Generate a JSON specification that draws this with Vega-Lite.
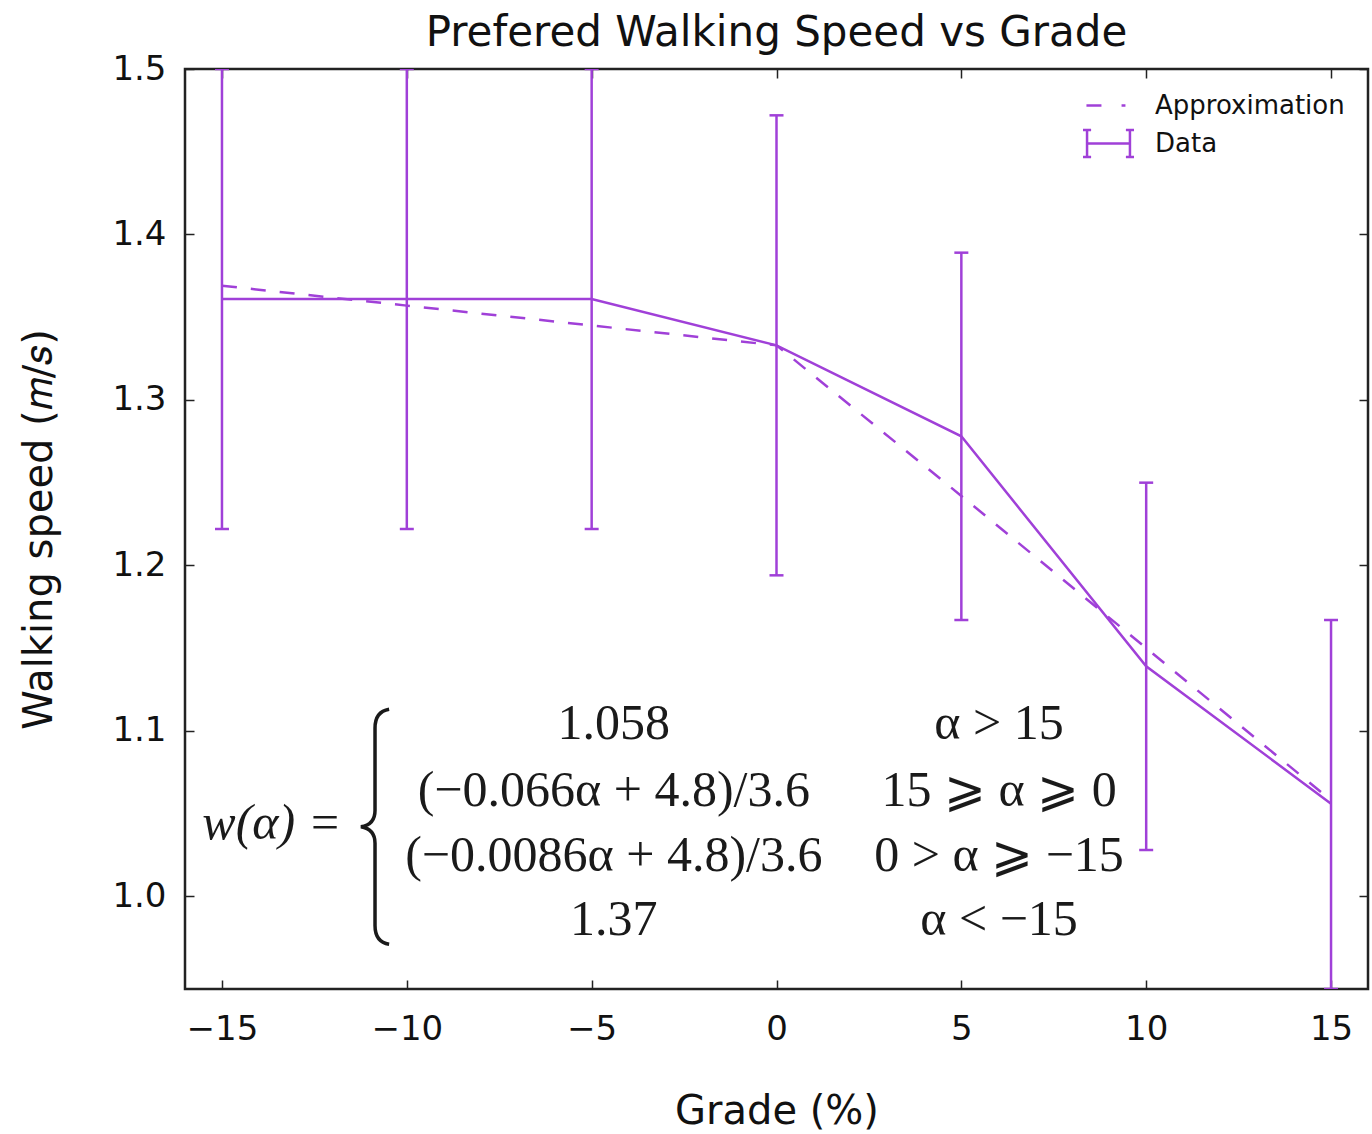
{
  "$schema": "https://vega.github.io/schema/vega-lite/v6.json",
  "width": 1183,
  "height": 920,
  "autosize": {"type": "none"},
  "padding": {"left": 185, "top": 69, "right": 4, "bottom": 145},
  "background": "white",
  "title": {
    "text": "Prefered Walking Speed vs Grade",
    "font": "DejaVu Sans",
    "fontSize": 42,
    "fontWeight": "normal",
    "color": "#111111",
    "anchor": "middle",
    "offset": -3
  },
  "config": {
    "view": {"stroke": "#222222", "strokeWidth": 2.5},
    "axis": {
      "grid": false,
      "domain": false,
      "tickColor": "#222222",
      "tickWidth": 1.5,
      "tickSize": -9,
      "labelFont": "DejaVu Sans",
      "labelFontSize": 34,
      "labelColor": "#111111",
      "titleFont": "DejaVu Sans",
      "titleFontSize": 40,
      "titleFontWeight": "normal",
      "titleColor": "#111111"
    }
  },
  "datasets": {
    "measured": [
      {"grade": -15, "speed": 1.361, "lo": 1.222, "hi": 1.5, "series": "Data"},
      {"grade": -10, "speed": 1.361, "lo": 1.222, "hi": 1.5, "series": "Data"},
      {"grade": -5, "speed": 1.361, "lo": 1.222, "hi": 1.5, "series": "Data"},
      {"grade": 0, "speed": 1.333, "lo": 1.194, "hi": 1.472, "series": "Data"},
      {"grade": 5, "speed": 1.278, "lo": 1.167, "hi": 1.389, "series": "Data"},
      {"grade": 10, "speed": 1.139, "lo": 1.028, "hi": 1.25, "series": "Data"},
      {"grade": 15, "speed": 1.056, "lo": 0.944, "hi": 1.167, "series": "Data"}
    ],
    "approximation": [
      {"grade": -15, "speed": 1.369, "series": "Approximation"},
      {"grade": -10, "speed": 1.357, "series": "Approximation"},
      {"grade": -5, "speed": 1.345, "series": "Approximation"},
      {"grade": 0, "speed": 1.333, "series": "Approximation"},
      {"grade": 5, "speed": 1.242, "series": "Approximation"},
      {"grade": 10, "speed": 1.15, "series": "Approximation"},
      {"grade": 15, "speed": 1.058, "series": "Approximation"}
    ],
    "formulaLeft": [
      {"grade": -13.65, "speed": 1.0435, "label": "w(α) ="}
    ],
    "formula": [
      {"grade": -4.4, "speed": 1.104, "label": "1.058"},
      {"grade": -4.4, "speed": 1.0634, "label": "(−0.066α + 4.8)/3.6"},
      {"grade": -4.4, "speed": 1.0242, "label": "(−0.0086α + 4.8)/3.6"},
      {"grade": -4.4, "speed": 0.9855, "label": "1.37"},
      {"grade": 6.02, "speed": 1.104, "label": "α > 15"},
      {"grade": 6.02, "speed": 1.0634, "label": "15 ⩾ α ⩾ 0"},
      {"grade": 6.02, "speed": 1.0242, "label": "0 > α ⩾ −15"},
      {"grade": 6.02, "speed": 0.9855, "label": "α < −15"}
    ],
    "brace": [
      {"grade": -10.86, "speed": 1.042}
    ]
  },
  "resolve": {"axis": {"x": "independent", "y": "independent"}},
  "layer": [
    {
      "data": {"name": "approximation"},
      "mark": {"type": "line", "strokeWidth": 2.5, "strokeDash": [15, 14], "clip": true},
      "encoding": {
        "x": {
          "field": "grade",
          "type": "quantitative",
          "scale": {"domain": [-16, 16], "nice": false, "zero": false},
          "axis": {
            "orient": "bottom",
            "values": [-15, -10, -5, 0, 5, 10, 15],
            "labelPadding": 32,
            "title": "Grade (%)",
            "titlePadding": 45
          }
        },
        "y": {
          "field": "speed",
          "type": "quantitative",
          "scale": {"domain": [0.944, 1.5], "nice": false, "zero": false},
          "axis": {
            "orient": "left",
            "values": [1.0, 1.1, 1.2, 1.3, 1.4, 1.5],
            "format": ".1f",
            "labelPadding": 28,
            "title": "Walking speed (𝑚/𝑠)",
            "titlePadding": 52
          }
        },
        "color": {
          "field": "series",
          "type": "nominal",
          "scale": {"domain": ["Approximation", "Data"], "range": ["#a040d8", "#a040d8"]},
          "legend": {
            "orient": "none",
            "legendX": 907,
            "legendY": 20,
            "title": null,
            "padding": 0,
            "symbolSize": 900,
            "symbolStrokeWidth": 2.5,
            "rowPadding": 6,
            "labelOffset": 30,
            "labelLimit": 0,
            "labelFont": "DejaVu Sans",
            "labelFontSize": 26,
            "labelColor": "#111111",
            "encode": {
              "symbols": {
                "update": {
                  "shape": {"signal": "datum.value === 'Data' ? 'M-1.43,-0.9V0.9M1.43,-0.9V0.9M-1.43,0H1.43M-1.7,-0.9H-1.16M-1.7,0.9H-1.16M1.16,-0.9H1.7M1.16,0.9H1.7' : 'M-1.47,0H-0.47M0.87,0H1.13'"},
                  "fill": {"value": "transparent"},
                  "stroke": {"value": "#a040d8"},
                  "strokeDash": {"value": [1, 0]},
                  "opacity": {"value": 1}
                }
              }
            }
          }
        }
      }
    },
    {
      "data": {"name": "measured"},
      "mark": {"type": "line", "strokeWidth": 2.5, "clip": true},
      "encoding": {
        "x": {"field": "grade", "type": "quantitative", "axis": null},
        "y": {"field": "speed", "type": "quantitative", "axis": null},
        "color": {"field": "series", "type": "nominal"}
      }
    },
    {
      "data": {"name": "measured"},
      "mark": {"type": "rule", "strokeWidth": 2.5, "color": "#a040d8", "clip": true},
      "encoding": {
        "x": {
          "field": "grade",
          "type": "quantitative",
          "axis": {
            "orient": "top",
            "values": [-15, -10, -5, 0, 5, 10, 15],
            "labels": false,
            "title": null
          }
        },
        "y": {
          "field": "lo",
          "type": "quantitative",
          "axis": {
            "orient": "right",
            "values": [1.0, 1.1, 1.2, 1.3, 1.4, 1.5],
            "labels": false,
            "title": null
          }
        },
        "y2": {"field": "hi"}
      }
    },
    {
      "data": {"name": "measured"},
      "mark": {"type": "tick", "orient": "horizontal", "size": 14, "thickness": 2.5, "color": "#a040d8", "opacity": 1, "clip": true},
      "encoding": {
        "x": {"field": "grade", "type": "quantitative", "axis": null},
        "y": {"field": "lo", "type": "quantitative", "axis": null}
      }
    },
    {
      "data": {"name": "measured"},
      "mark": {"type": "tick", "orient": "horizontal", "size": 14, "thickness": 2.5, "color": "#a040d8", "opacity": 1, "clip": true},
      "encoding": {
        "x": {"field": "grade", "type": "quantitative", "axis": null},
        "y": {"field": "hi", "type": "quantitative", "axis": null}
      }
    },
    {
      "data": {"name": "formulaLeft"},
      "mark": {"type": "text", "font": "Liberation Serif", "fontSize": 50, "fontStyle": "italic", "align": "center", "baseline": "middle", "color": "#1a1a1a"},
      "encoding": {
        "x": {"field": "grade", "type": "quantitative", "axis": null},
        "y": {"field": "speed", "type": "quantitative", "axis": null},
        "text": {"field": "label"}
      }
    },
    {
      "data": {"name": "formula"},
      "mark": {"type": "text", "font": "Liberation Serif", "fontSize": 50, "align": "center", "baseline": "middle", "color": "#1a1a1a"},
      "encoding": {
        "x": {"field": "grade", "type": "quantitative", "axis": null},
        "y": {"field": "speed", "type": "quantitative", "axis": null},
        "text": {"field": "label"}
      }
    },
    {
      "data": {"name": "brace"},
      "mark": {
        "type": "point",
        "shape": "M0.12,-1Q0,-0.98 0,-0.84L0,-0.14Q0,-0.02 -0.12,0Q0,0.02 0,0.14L0,0.84Q0,0.98 0.12,1",
        "size": 55225,
        "filled": false,
        "stroke": "#1a1a1a",
        "strokeWidth": 3.5,
        "opacity": 1
      },
      "encoding": {
        "x": {"field": "grade", "type": "quantitative", "axis": null},
        "y": {"field": "speed", "type": "quantitative", "axis": null}
      }
    }
  ]
}
